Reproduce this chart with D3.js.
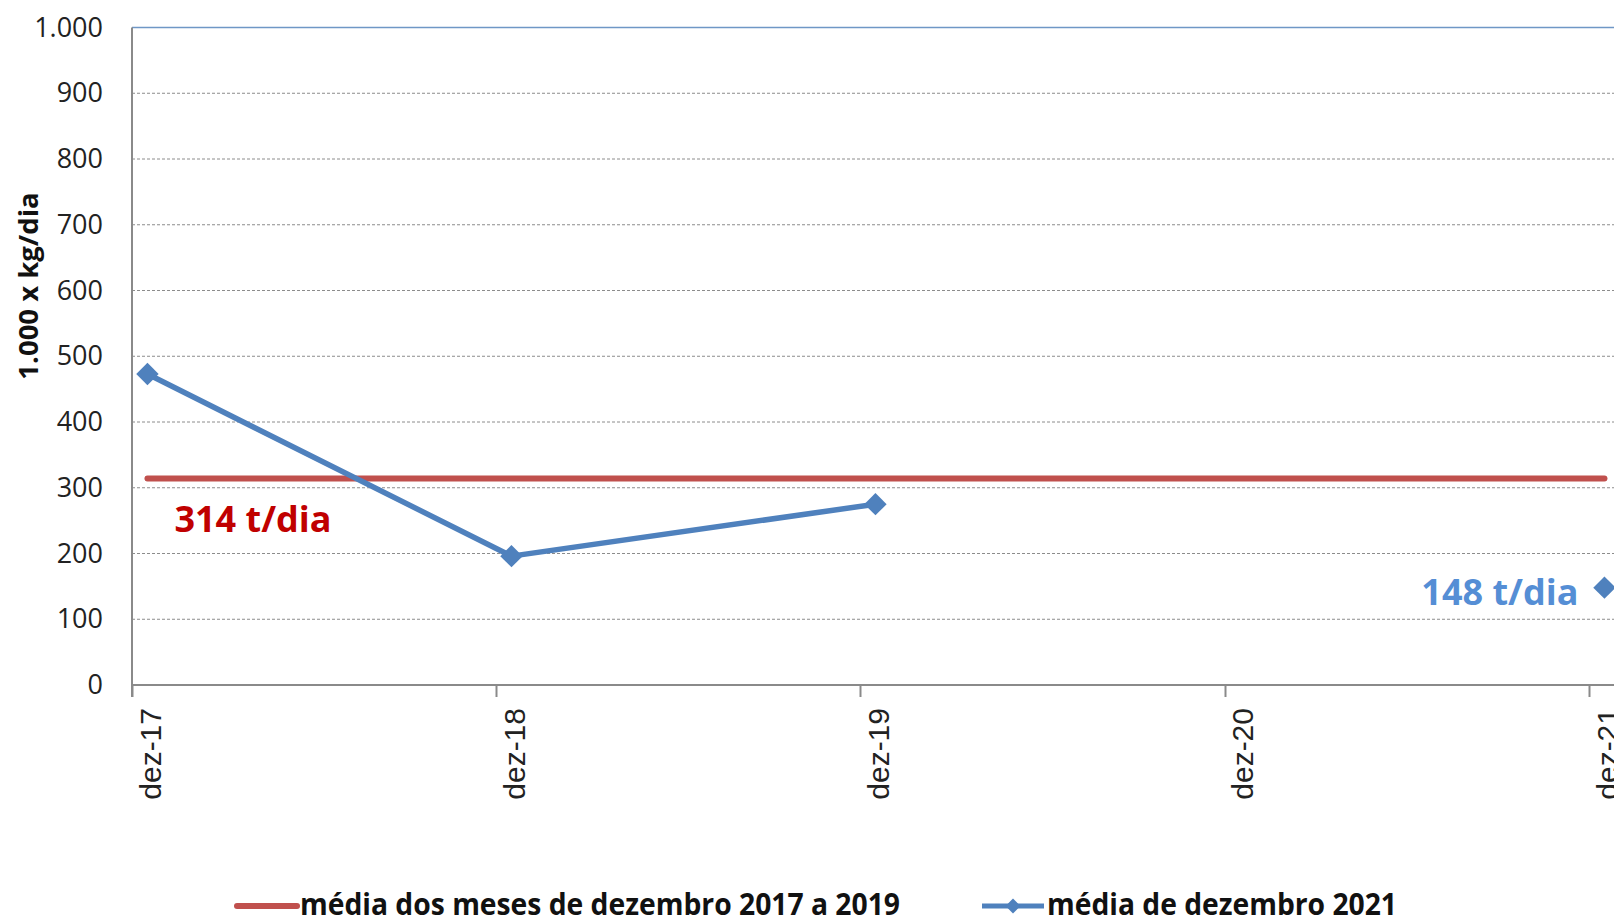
<!DOCTYPE html>
<html>
<head>
<meta charset="utf-8">
<script src="https://cdn.jsdelivr.net/npm/d3@7"></script>
<style>
  body { margin: 0; background: #fff; }
</style>
</head>
<body>
<div id="grafico"></div>
<script>
// data
const months = ["2017-12", "2018-12", "2019-12", "2020-12", "2021-12"];
const tickLabels = ["dez-17", "dez-18", "dez-19", "dez-20", "dez-21"];
const mediaDez2021 = [473, 196, 275, null, 148];
const mediaDez2017a2019 = [314, 314, 314, 314, 314];
const yTicks = [0, 100, 200, 300, 400, 500, 600, 700, 800, 900, 1000];
const seriesNames = ["média dos meses de dezembro 2017 a 2019", "média de dezembro 2021"];

const W = 1614, H = 921;
const plotLeft = 132, plotTop = 27.5, plotBottom = 685;

const parse = d3.timeParse("%Y-%m");
const dates = months.map(parse);

const svg = d3.select("#grafico")
    .append("svg")
    .attr("width", W)
    .attr("height", H);

const x = d3.scaleTime()
    .domain([dates[0], dates[dates.length - 1]])
    .range([plotLeft, 1589]);

const y = d3.scaleLinear()
    .domain([0, 1000])
    .range([plotBottom, plotTop]);

// points sit in the middle of their month (Excel date axis)
const midX = d => (x(d) + x(d3.timeMonth.offset(d, 1))) / 2;

const fmt = d3.formatLocale({decimal: ",", thousands: ".", grouping: [3], currency: ["R$", ""]}).format(",");

// grid
svg.append("g")
    .selectAll("line")
    .data(yTicks.filter(t => t > 0 && t < 1000))
    .enter().append("line")
    .attr("x1", plotLeft)
    .attr("x2", W)
    .attr("y1", d => y(d))
    .attr("y2", d => y(d))
    .attr("stroke", "#8c8c8c")
    .attr("stroke-width", 1)
    .attr("stroke-dasharray", "3,2");

// top border
svg.append("line")
    .attr("x1", plotLeft).attr("x2", W)
    .attr("y1", y(1000)).attr("y2", y(1000))
    .attr("stroke", "#6f97c6")
    .attr("stroke-width", 1.5);

// y axis
const yAxis = svg.append("g")
    .attr("transform", `translate(${plotLeft},0)`)
    .call(d3.axisLeft(y).tickValues(yTicks).tickSize(0).tickPadding(29).tickFormat(fmt));
yAxis.select(".domain").remove();
yAxis.selectAll("text")
    .attr("font-family", "Open Sans")
    .attr("font-size", 27)
    .attr("fill", "#222");

svg.append("line")
    .attr("x1", plotLeft).attr("x2", plotLeft)
    .attr("y1", plotTop).attr("y2", plotBottom + 12)
    .attr("stroke", "#8a8a8a")
    .attr("stroke-width", 2);

// x axis
const xAxis = svg.append("g")
    .attr("transform", `translate(0,${plotBottom})`)
    .call(d3.axisBottom(x).tickValues(dates).tickSize(12).tickFormat((d, i) => tickLabels[i]));
xAxis.select(".domain")
    .attr("d", `M${plotLeft},0H${W}`)
    .attr("stroke", "#8a8a8a")
    .attr("stroke-width", 2);
xAxis.selectAll(".tick line")
    .attr("stroke", "#8a8a8a")
    .attr("stroke-width", 2);
xAxis.selectAll("text")
    .attr("font-family", "Liberation Sans")
    .attr("font-size", 30)
    .attr("fill", "#222")
    .attr("text-anchor", "end")
    .attr("dy", 0)
    .attr("y", 0)
    .attr("transform", "translate(28,23) rotate(-90)");

// red average line
const line = d3.line()
    .defined(d => d.v != null)
    .x(d => midX(d.date))
    .y(d => y(d.v));

svg.append("path")
    .datum(dates.map((d, i) => ({date: d, v: mediaDez2017a2019[i]})))
    .attr("d", line)
    .attr("fill", "none")
    .attr("stroke", "#c0504d")
    .attr("stroke-width", 6)
    .attr("stroke-linecap", "round");

// blue series
const blueData = dates.map((d, i) => ({date: d, v: mediaDez2021[i]}));
svg.append("path")
    .datum(blueData)
    .attr("d", line)
    .attr("fill", "none")
    .attr("stroke", "#4f81bd")
    .attr("stroke-width", 5.5)
    .attr("stroke-linejoin", "round");

const diamond = d3.symbol().type(d3.symbolSquare).size(250);
svg.append("g")
    .selectAll("path")
    .data(blueData.filter(d => d.v != null))
    .enter().append("path")
    .attr("d", diamond)
    .attr("transform", d => `translate(${midX(d.date)},${y(d.v)}) rotate(45)`)
    .attr("fill", "#4f81bd");

// labels
svg.append("text")
    .attr("x", midX(dates[0]) + 27)
    .attr("y", y(mediaDez2017a2019[0]) + 53)
    .attr("font-family", "Open Sans")
    .attr("font-weight", "bold")
    .attr("font-size", 36)
    .attr("fill", "#c00000")
    .text(mediaDez2017a2019[0] + " t/dia");

svg.append("text")
    .attr("x", midX(dates[4]) - 26)
    .attr("y", y(mediaDez2021[4]) + 17)
    .attr("text-anchor", "end")
    .attr("font-family", "Open Sans")
    .attr("font-weight", "bold")
    .attr("font-size", 36)
    .attr("fill", "#558ed5")
    .text(mediaDez2021[4] + " t/dia");

// y title
svg.append("text")
    .attr("transform", "translate(38,286) rotate(-90)")
    .attr("text-anchor", "middle")
    .attr("font-family", "Open Sans")
    .attr("font-weight", "bold")
    .attr("font-size", 27.5)
    .attr("fill", "#111")
    .text("1.000 x kg/dia");

// legend
const legY = 906;
svg.append("line")
    .attr("x1", 237).attr("x2", 297)
    .attr("y1", legY).attr("y2", legY)
    .attr("stroke", "#c0504d")
    .attr("stroke-width", 6)
    .attr("stroke-linecap", "round");
svg.append("text")
    .attr("x", 300).attr("y", 915)
    .attr("font-family", "Open Sans")
    .attr("font-weight", "bold")
    .attr("font-size", 30)
    .attr("textLength", 600)
    .attr("lengthAdjust", "spacingAndGlyphs")
    .attr("fill", "#111")
    .text(seriesNames[0]);

svg.append("line")
    .attr("x1", 982).attr("x2", 1044)
    .attr("y1", legY).attr("y2", legY)
    .attr("stroke", "#4f81bd")
    .attr("stroke-width", 5);
svg.append("path")
    .attr("d", d3.symbol().type(d3.symbolSquare).size(110))
    .attr("transform", `translate(1013,${legY}) rotate(45)`)
    .attr("fill", "#4f81bd");
svg.append("text")
    .attr("x", 1047).attr("y", 915)
    .attr("font-family", "Open Sans")
    .attr("font-weight", "bold")
    .attr("font-size", 30)
    .attr("textLength", 350)
    .attr("lengthAdjust", "spacingAndGlyphs")
    .attr("fill", "#111")
    .text(seriesNames[1]);
</script>
</body>
</html>
